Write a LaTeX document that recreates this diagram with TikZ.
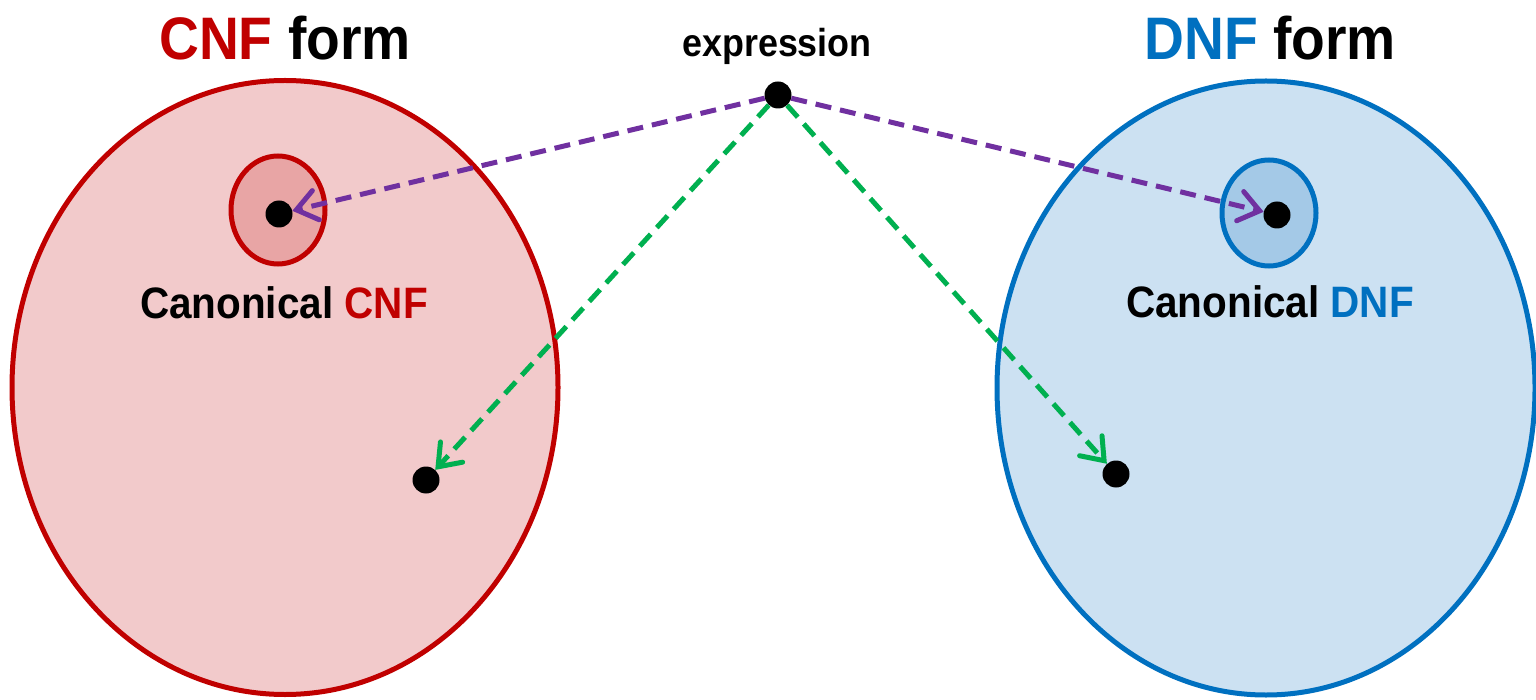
\documentclass[tikz,border=0pt]{standalone}
\usepackage{fontspec}
\setmainfont{Liberation Sans}[FakeStretch=0.92]
\usetikzlibrary{arrows.meta}
\definecolor{cred}{HTML}{C00000}
\definecolor{cblue}{HTML}{0070C0}
\definecolor{cpurple}{HTML}{7030A0}
\definecolor{cgreen}{HTML}{00B050}
\definecolor{redfill}{HTML}{F2CACB}
\definecolor{redfill2}{HTML}{E8A5A5}
\definecolor{bluefill}{HTML}{CCE1F2}
\definecolor{bluefill2}{HTML}{A4C9E7}
\tikzset{
  dot/.style={circle,fill=black,inner sep=0pt,minimum size=27pt},
  bigset/.style={line width=5pt},
  conn/.style={line width=5pt,dash pattern=on 16pt off 9pt,line cap=butt,
    -{Straight Barb[length=20pt,width=30pt,line cap=round,line width=5pt]}},
  lbl/.style={font=\bfseries\fontsize{44}{48}\selectfont,inner sep=0pt},
  ttl/.style={font=\bfseries\fontsize{60}{64}\selectfont,inner sep=0pt},
}
\begin{document}
\begin{tikzpicture}[x=1pt,y=-1pt]
\useasboundingbox (0,0) rectangle (1536,700);
% CNF side
\draw[bigset,draw=cred,fill=redfill] (285,387.5) ellipse [x radius=273,y radius=307];
\draw[bigset,draw=cred,fill=redfill2] (278,210) ellipse [x radius=47,y radius=54];
\node[dot] (c1) at (279,214) {};
\node[dot] (c2) at (426,480) {};
\node[lbl] (cl) at (284,303) {Canonical \textcolor{cred}{CNF}};
\node[ttl] (ct) at (285,38) {\textcolor{cred}{CNF} form};
% DNF side
\draw[bigset,draw=cblue,fill=bluefill] (1266,388) ellipse [x radius=269,y radius=307];
\draw[bigset,draw=cblue,fill=bluefill2] (1269,213) ellipse [x radius=47,y radius=53];
\node[dot] (d1) at (1277,215) {};
\node[dot] (d2) at (1116,474) {};
\node[lbl] (dl) at (1270,302) {Canonical \textcolor{cblue}{DNF}};
\node[ttl] (dt) at (1270,38) {\textcolor{cblue}{DNF} form};
% expression
\node[dot] (e) at (778,95) {};
\node[font=\bfseries\fontsize{39}{43}\selectfont,inner sep=0pt] (el) at (777,46) {expression};
\draw[conn,cpurple] (e) -- (c1);
\draw[conn,cpurple] (e) -- (d1);
\draw[conn,cgreen] (e) -- (c2);
\draw[conn,cgreen] (e) -- (d2);
\end{tikzpicture}
\end{document}
